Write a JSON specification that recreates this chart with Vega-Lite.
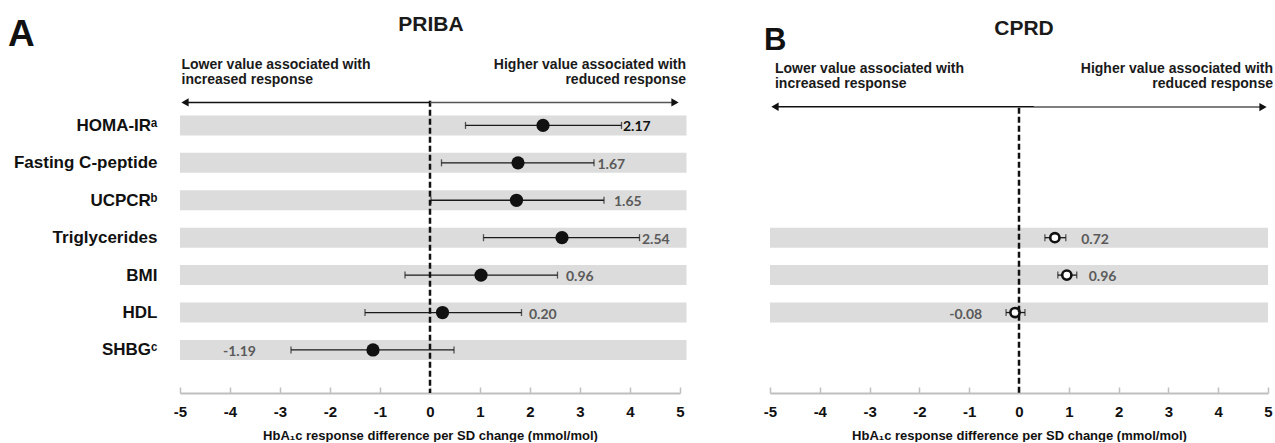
{
  "$schema": "https://vega.github.io/schema/vega-lite/v6.json",
  "background": "white",
  "padding": {"left": 8, "top": 14, "right": 0, "bottom": 0},
  "spacing": 76,
  "config": {"view": {"stroke": null}, "font": "Liberation Sans", "scale": {"continuousPadding": 0}},
  "datasets": {
    "priba": [
      {"row": 1, "name": "HOMA-IR", "est": 2.26, "lo": 0.71, "hi": 3.83, "label": "2.17", "lx": 3.86},
      {"row": 2, "name": "Fasting C-peptide", "est": 1.76, "lo": 0.23, "hi": 3.28, "label": "1.67", "lx": 3.35},
      {"row": 3, "name": "UCPCR", "est": 1.73, "lo": 0.02, "hi": 3.48, "label": "1.65", "lx": 3.68},
      {"row": 4, "name": "Triglycerides", "est": 2.64, "lo": 1.07, "hi": 4.19, "label": "2.54", "lx": 4.24},
      {"row": 5, "name": "BMI", "est": 1.02, "lo": -0.5, "hi": 2.55, "label": "0.96", "lx": 2.72},
      {"row": 6, "name": "HDL", "est": 0.25, "lo": -1.3, "hi": 1.83, "label": "0.20", "lx": 1.98},
      {"row": 7, "name": "SHBG", "est": -1.14, "lo": -2.78, "hi": 0.48, "label": "-1.19", "lx": -4.14}
    ],
    "cprd": [
      {"row": 4, "name": "Triglycerides", "est": 0.72, "lo": 0.52, "hi": 0.94, "label": "0.72", "lx": 1.25},
      {"row": 5, "name": "BMI", "est": 0.96, "lo": 0.78, "hi": 1.16, "label": "0.96", "lx": 1.4},
      {"row": 6, "name": "HDL", "est": -0.08, "lo": -0.26, "hi": 0.12, "label": "-0.08", "lx": -1.4}
    ]
  },
  "hconcat": [
    {
      "width": 500,
      "height": 305,
      "data": {"name": "priba"},
      "layer": [
        {
          "mark": {"type": "bar", "orient": "horizontal", "size": 20, "color": "#dcdcdc"},
          "encoding": {
            "x": {"datum": -5, "type": "quantitative", "title": "HbA₁c response difference per SD change (mmol/mol)",
              "scale": {"domain": [-5, 5], "nice": false, "zero": false, "padding": 0},
              "axis": {"values": [-5, -4, -3, -2, -1, 0, 1, 2, 3, 4, 5], "labelExpr": "'' + datum.value", "grid": false,
                "domainColor": "#bfbfbf", "domainWidth": 2, "tickColor": "#bfbfbf", "tickWidth": 1.5, "tickSize": -6,
                "labelFont": "Liberation Sans", "labelFontWeight": "bold", "labelFontSize": 15, "labelColor": "#111111", "labelPadding": 17, "labelFlush": false,
                "titleFont": "Liberation Sans", "titleFontWeight": "bold", "titleFontSize": 13, "titleColor": "#111111", "titlePadding": 10}},
            "x2": {"datum": 5.13},
            "y": {"field": "row", "type": "quantitative", "title": null,
              "scale": {"domain": [0, 8.15], "reverse": true, "nice": false, "zero": false, "padding": 0},
              "axis": {"values": [1, 2, 3, 4, 5, 6, 7], "labelExpr": "['', 'HOMA-IRᵃ', 'Fasting C-peptide', 'UCPCRᵇ', 'Triglycerides', 'BMI', 'HDL', 'SHBGᶜ'][datum.value]",
                "grid": false, "domain": false, "ticks": false, "labelPadding": 23,
                "labelFont": "Liberation Sans", "labelFontWeight": "bold", "labelFontSize": 17, "labelColor": "#111111"}}
          }
        },
        {
          "mark": {"type": "rule", "color": "#1a1a1a", "strokeWidth": 1.3},
          "encoding": {
            "x": {"field": "lo", "type": "quantitative", "title": "HbA₁c response difference per SD change (mmol/mol)"},
            "x2": {"field": "hi"},
            "y": {"field": "row", "type": "quantitative", "title": null}
          }
        },
        {
          "mark": {"type": "tick", "orient": "vertical", "size": 7, "thickness": 1.3, "color": "#1a1a1a"},
          "encoding": {
            "x": {"field": "lo", "type": "quantitative", "title": "HbA₁c response difference per SD change (mmol/mol)"},
            "y": {"field": "row", "type": "quantitative", "title": null}
          }
        },
        {
          "mark": {"type": "tick", "orient": "vertical", "size": 7, "thickness": 1.3, "color": "#1a1a1a"},
          "encoding": {
            "x": {"field": "hi", "type": "quantitative", "title": "HbA₁c response difference per SD change (mmol/mol)"},
            "y": {"field": "row", "type": "quantitative", "title": null}
          }
        },
        {
          "mark": {"type": "point", "shape": "circle", "filled": true, "size": 175, "color": "#111111", "opacity": 1},
          "encoding": {
            "x": {"field": "est", "type": "quantitative", "title": "HbA₁c response difference per SD change (mmol/mol)"},
            "y": {"field": "row", "type": "quantitative", "title": null}
          }
        },
        {
          "mark": {"type": "text", "align": "left", "baseline": "middle", "dy": 2, "font": "Lato", "fontWeight": "bold", "fontSize": 14},
          "encoding": {
            "x": {"field": "lx", "type": "quantitative", "title": "HbA₁c response difference per SD change (mmol/mol)"},
            "y": {"field": "row", "type": "quantitative", "title": null},
            "text": {"field": "label"},
            "color": {"condition": {"test": "datum.row == 1", "value": "#111111"}, "value": "#5a5a5a"}
          }
        },
        {
          "data": {"values": [{"part": "zero"}]},
          "mark": {"type": "rule", "color": "#111111", "strokeWidth": 2.5, "strokeDash": [6, 3]},
          "encoding": {
            "x": {"datum": 0, "type": "quantitative"},
            "y": {"datum": 0.34, "type": "quantitative"},
            "y2": {"datum": 8.15}
          }
        },
        {
          "data": {"values": [{"part": "arrow"}]},
          "layer": [
            {"mark": {"type": "rule", "color": "#111111", "strokeWidth": 1.5},
             "encoding": {"x": {"datum": -4.9, "type": "quantitative"}, "x2": {"datum": 0}, "y": {"datum": 0.385, "type": "quantitative"}}},
            {"mark": {"type": "rule", "color": "#555555", "strokeWidth": 1.5},
             "encoding": {"x": {"datum": 0, "type": "quantitative"}, "x2": {"datum": 4.9}, "y": {"datum": 0.385, "type": "quantitative"}}},
            {"mark": {"type": "point", "shape": "triangle-left", "filled": true, "size": 70, "color": "#111111", "opacity": 1},
             "encoding": {"x": {"datum": -4.9, "type": "quantitative"}, "y": {"datum": 0.385, "type": "quantitative"}}},
            {"mark": {"type": "point", "shape": "triangle-right", "filled": true, "size": 70, "color": "#111111", "opacity": 1},
             "encoding": {"x": {"datum": 4.9, "type": "quantitative"}, "y": {"datum": 0.385, "type": "quantitative"}}},
            {"mark": {"type": "text", "text": ["Lower value associated with", "increased response"], "align": "left", "baseline": "alphabetic", "lineHeight": 15, "fontWeight": "bold", "fontSize": 14, "color": "#1a1a1a"},
             "encoding": {"x": {"datum": -4.97, "type": "quantitative"}, "y": {"datum": -0.508, "type": "quantitative"}}},
            {"mark": {"type": "text", "text": ["Higher value associated with", "reduced response"], "align": "right", "baseline": "alphabetic", "lineHeight": 15, "fontWeight": "bold", "fontSize": 14, "color": "#1a1a1a"},
             "encoding": {"x": {"datum": 5.12, "type": "quantitative"}, "y": {"datum": -0.508, "type": "quantitative"}}},
            {"mark": {"type": "text", "text": "PRIBA", "align": "center", "baseline": "alphabetic", "fontWeight": "bold", "fontSize": 21, "color": "#1a1a1a"},
             "encoding": {"x": {"datum": 0.02, "type": "quantitative"}, "y": {"datum": -1.513, "type": "quantitative"}}},
            {"mark": {"type": "text", "text": "A", "align": "left", "baseline": "alphabetic", "fontWeight": "bold", "fontSize": 37, "color": "#111111"},
             "encoding": {"x": {"datum": -8.44, "type": "quantitative"}, "y": {"datum": -1.13, "type": "quantitative"}}}
          ]
        }
      ]
    },
    {
      "width": 498,
      "height": 305,
      "data": {"name": "cprd"},
      "layer": [
        {
          "mark": {"type": "bar", "orient": "horizontal", "size": 20, "color": "#dcdcdc"},
          "encoding": {
            "x": {"datum": -5, "type": "quantitative", "title": "HbA₁c response difference per SD change (mmol/mol)",
              "scale": {"domain": [-5, 5], "nice": false, "zero": false, "padding": 0},
              "axis": {"values": [-5, -4, -3, -2, -1, 0, 1, 2, 3, 4, 5], "labelExpr": "'' + datum.value", "grid": false,
                "domainColor": "#bfbfbf", "domainWidth": 2, "tickColor": "#bfbfbf", "tickWidth": 1.5, "tickSize": -6,
                "labelFont": "Liberation Sans", "labelFontWeight": "bold", "labelFontSize": 15, "labelColor": "#111111", "labelPadding": 17, "labelFlush": false,
                "titleFont": "Liberation Sans", "titleFontWeight": "bold", "titleFontSize": 13, "titleColor": "#111111", "titlePadding": 10}},
            "x2": {"datum": 5},
            "y": {"field": "row", "type": "quantitative", "title": null,
              "scale": {"domain": [0, 8.15], "reverse": true, "nice": false, "zero": false, "padding": 0},
              "axis": null}
          }
        },
        {
          "mark": {"type": "rule", "color": "#1a1a1a", "strokeWidth": 1.3},
          "encoding": {
            "x": {"field": "lo", "type": "quantitative", "title": "HbA₁c response difference per SD change (mmol/mol)"},
            "x2": {"field": "hi"},
            "y": {"field": "row", "type": "quantitative", "title": null, "axis": null}
          }
        },
        {
          "mark": {"type": "tick", "orient": "vertical", "size": 7, "thickness": 1.3, "color": "#1a1a1a"},
          "encoding": {
            "x": {"field": "lo", "type": "quantitative", "title": "HbA₁c response difference per SD change (mmol/mol)"},
            "y": {"field": "row", "type": "quantitative", "title": null, "axis": null}
          }
        },
        {
          "mark": {"type": "tick", "orient": "vertical", "size": 7, "thickness": 1.3, "color": "#1a1a1a"},
          "encoding": {
            "x": {"field": "hi", "type": "quantitative", "title": "HbA₁c response difference per SD change (mmol/mol)"},
            "y": {"field": "row", "type": "quantitative", "title": null, "axis": null}
          }
        },
        {
          "mark": {"type": "point", "shape": "circle", "filled": true, "size": 85, "color": "white", "stroke": "#111111", "strokeWidth": 2.6, "opacity": 1},
          "encoding": {
            "x": {"field": "est", "type": "quantitative", "title": "HbA₁c response difference per SD change (mmol/mol)"},
            "y": {"field": "row", "type": "quantitative", "title": null, "axis": null}
          }
        },
        {
          "mark": {"type": "text", "align": "left", "baseline": "middle", "dy": 2, "font": "Lato", "fontWeight": "bold", "fontSize": 14, "color": "#5a5a5a"},
          "encoding": {
            "x": {"field": "lx", "type": "quantitative", "title": "HbA₁c response difference per SD change (mmol/mol)"},
            "y": {"field": "row", "type": "quantitative", "title": null, "axis": null},
            "text": {"field": "label"}
          }
        },
        {
          "data": {"values": [{"part": "zero"}]},
          "mark": {"type": "rule", "color": "#111111", "strokeWidth": 2.5, "strokeDash": [6, 3]},
          "encoding": {
            "x": {"datum": 0, "type": "quantitative"},
            "y": {"datum": 0.53, "type": "quantitative", "axis": null},
            "y2": {"datum": 8.15}
          }
        },
        {
          "data": {"values": [{"part": "arrow"}]},
          "layer": [
            {"mark": {"type": "rule", "color": "#111111", "strokeWidth": 1.5},
             "encoding": {"x": {"datum": -4.9, "type": "quantitative"}, "x2": {"datum": 0.3}, "y": {"datum": 0.5, "type": "quantitative", "axis": null}}},
            {"mark": {"type": "rule", "color": "#555555", "strokeWidth": 1.5},
             "encoding": {"x": {"datum": 0.3, "type": "quantitative"}, "x2": {"datum": 4.9}, "y": {"datum": 0.51, "type": "quantitative", "axis": null}}},
            {"mark": {"type": "point", "shape": "triangle-left", "filled": true, "size": 70, "color": "#111111", "opacity": 1},
             "encoding": {"x": {"datum": -4.9, "type": "quantitative"}, "y": {"datum": 0.5, "type": "quantitative", "axis": null}}},
            {"mark": {"type": "point", "shape": "triangle-right", "filled": true, "size": 70, "color": "#111111", "opacity": 1},
             "encoding": {"x": {"datum": 4.9, "type": "quantitative"}, "y": {"datum": 0.51, "type": "quantitative", "axis": null}}},
            {"mark": {"type": "text", "text": ["Lower value associated with", "increased response"], "align": "left", "baseline": "alphabetic", "lineHeight": 15, "fontWeight": "bold", "fontSize": 14, "color": "#1a1a1a"},
             "encoding": {"x": {"datum": -4.9, "type": "quantitative"}, "y": {"datum": -0.41, "type": "quantitative", "axis": null}}},
            {"mark": {"type": "text", "text": ["Higher value associated with", "reduced response"], "align": "right", "baseline": "alphabetic", "lineHeight": 15, "fontWeight": "bold", "fontSize": 14, "color": "#1a1a1a"},
             "encoding": {"x": {"datum": 5.1, "type": "quantitative"}, "y": {"datum": -0.41, "type": "quantitative", "axis": null}}},
            {"mark": {"type": "text", "text": "CPRD", "align": "center", "baseline": "alphabetic", "fontWeight": "bold", "fontSize": 21, "color": "#1a1a1a"},
             "encoding": {"x": {"datum": 0.1, "type": "quantitative"}, "y": {"datum": -1.42, "type": "quantitative", "axis": null}}},
            {"mark": {"type": "text", "text": "B", "align": "left", "baseline": "alphabetic", "fontWeight": "bold", "fontSize": 31, "color": "#111111"},
             "encoding": {"x": {"datum": -5.12, "type": "quantitative"}, "y": {"datum": -1.02, "type": "quantitative", "axis": null}}}
          ]
        }
      ]
    }
  ]
}
